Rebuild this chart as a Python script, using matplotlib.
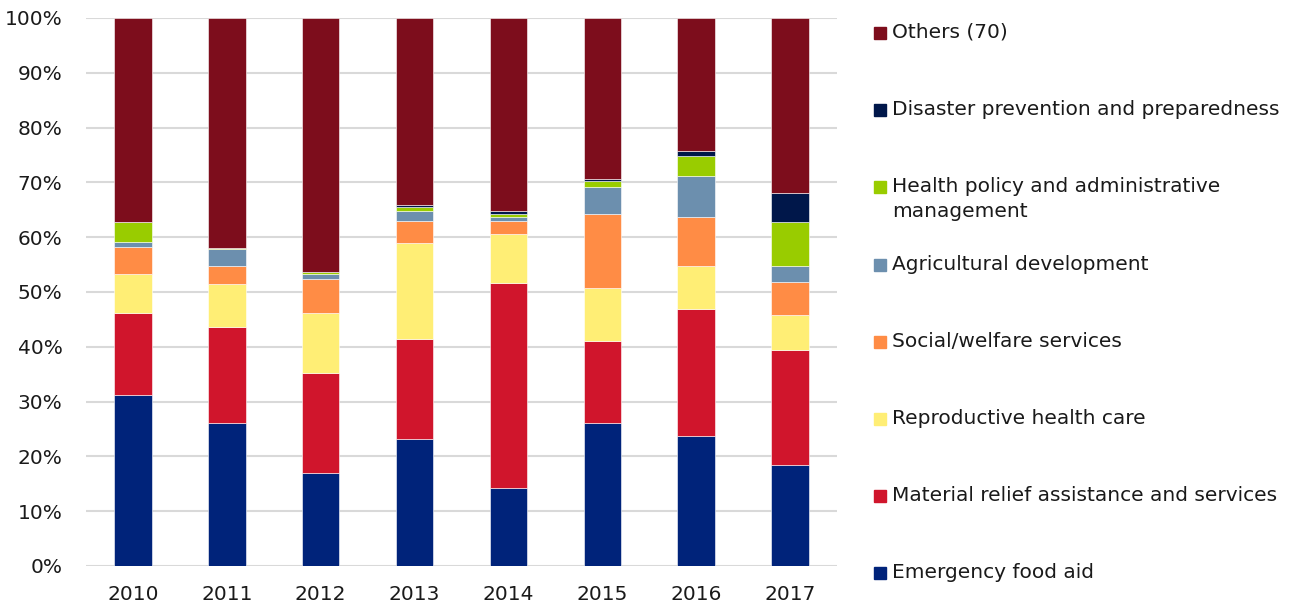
import matplotlib.pyplot as plt
import numpy as np

years = ["2010", "2011", "2012", "2013", "2014", "2015", "2016", "2017"]

# shares in %, bottom to top
food = [31.2, 26.1, 17.0, 23.2, 14.2, 26.1, 23.7, 18.4]
material = [15.0, 17.6, 18.2, 18.2, 37.4, 15.0, 23.2, 21.0]
repro = [7.1, 7.8, 11.0, 17.5, 8.9, 9.7, 7.8, 6.4]
social = [4.9, 3.2, 6.2, 4.1, 2.5, 13.4, 9.0, 6.0]
agri = [0.9, 3.1, 0.9, 1.7, 0.6, 5.0, 7.5, 2.9]
health = [3.7, 0.2, 0.4, 0.9, 0.6, 1.1, 3.7, 8.0]
disaster = [0.0, 0.0, 0.0, 0.2, 0.5, 0.4, 0.8, 5.3]
others = [37.2, 42.0, 46.3, 34.2, 35.3, 29.3, 24.3, 32.0]

names = ["Emergency food aid", "Material relief assistance and services",
         "Reproductive health care", "Social/welfare services",
         "Agricultural development",
         "Health policy and administrative\nmanagement",
         "Disaster prevention and preparedness", "Others (70)"]
colors = ["#00237A", "#D0152C", "#FFEE75", "#FF8C45", "#6C8FAE",
          "#99CC00", "#00174A", "#7D0D1C"]
series = [food, material, repro, social, agri, health, disaster, others]

plt.rcParams['font.family'] = ['DejaVu Sans']
fig = plt.figure(figsize=(12.96, 6.08), dpi=100)
ax = fig.add_axes([0.0664, 0.0691, 0.5794, 0.9013])

x = np.arange(len(years))
bottom = np.zeros(len(years))
for vals, c in zip(series, colors):
    ax.bar(x, vals, 0.4, bottom=bottom, color=c, edgecolor="#ffffff",
           linewidth=0.4, zorder=3)
    bottom += np.array(vals)

ax.set_xlim(-0.5, 7.5)
ax.set_ylim(0, 100)
ax.set_yticks(range(0, 101, 10))
ax.set_yticklabels([f"{v}%" for v in range(0, 101, 10)])
ax.set_xticks(x)
ax.set_xticklabels(years)
ax.grid(axis="y", color="#D9D9D9", linewidth=1.5, zorder=0)
for s in ax.spines.values():
    s.set_visible(False)
ax.tick_params(axis="y", length=0, pad=17, labelsize=14.5, labelcolor="#1a1a1a")
ax.tick_params(axis="x", length=0, pad=14, labelsize=14.5, labelcolor="#1a1a1a")

# legend, top entry = last series
step = 77.1
for i, (name, c) in enumerate(zip(names[::-1], colors[::-1])):
    ypx = 33 + i * step
    if i == 2:
        ypx = 187
    elif i > 2:
        ypx = 265 + (i - 3) * step
    yf = 1 - ypx / 608
    fig.patches.append(plt.Rectangle((874 / 1296, yf - 6 / 608), 12 / 1296, 12 / 608,
                                     transform=fig.transFigure, color=c))
    fig.text(892 / 1296, yf + 10 / 608, name, va="top", ha="left", fontsize=14.5,
             color="#1a1a1a", linespacing=1.38)

fig.savefig("out.png")
